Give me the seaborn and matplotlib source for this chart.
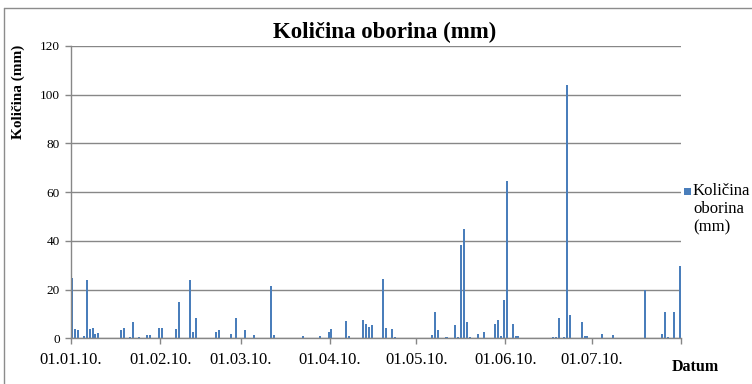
import matplotlib
matplotlib.use("Agg")
import matplotlib.pyplot as plt
import seaborn as sns
import pandas as pd
from matplotlib.patches import Rectangle
from matplotlib.lines import Line2D

# ---- data ----
dates = [
    "2010-01-01", "2010-01-02", "2010-01-03", "2010-01-05", "2010-01-06", "2010-01-07",
    "2010-01-08", "2010-01-09", "2010-01-10", "2010-01-18", "2010-01-19", "2010-01-21",
    "2010-01-22", "2010-01-24", "2010-01-27", "2010-01-28", "2010-01-31",
    "2010-02-01", "2010-02-06", "2010-02-07", "2010-02-11", "2010-02-12", "2010-02-13",
    "2010-02-20", "2010-02-21", "2010-02-25", "2010-02-27",
    "2010-03-02", "2010-03-05", "2010-03-11", "2010-03-12", "2010-03-22", "2010-03-28",
    "2010-03-31",
    "2010-04-01", "2010-04-06", "2010-04-07", "2010-04-12", "2010-04-13", "2010-04-14",
    "2010-04-15", "2010-04-19", "2010-04-20", "2010-04-22", "2010-04-23",
    "2010-05-06", "2010-05-07", "2010-05-08", "2010-05-11", "2010-05-14", "2010-05-15",
    "2010-05-16", "2010-05-17", "2010-05-18", "2010-05-19", "2010-05-22", "2010-05-24",
    "2010-05-28", "2010-05-29", "2010-05-30", "2010-05-31",
    "2010-06-01", "2010-06-03", "2010-06-04", "2010-06-05", "2010-06-17", "2010-06-18",
    "2010-06-19", "2010-06-21", "2010-06-22", "2010-06-23", "2010-06-27", "2010-06-28",
    "2010-06-29",
    "2010-07-04", "2010-07-08", "2010-07-19", "2010-07-25", "2010-07-26", "2010-07-27",
    "2010-07-29", "2010-07-31",
]
amounts = [
    24.8, 3.7, 3.3, 0.8, 24.1, 3.7,
    4.1, 1.6, 2.0, 3.4, 4.1, 0.5,
    6.7, 0.5, 1.2, 1.2, 4.1,
    4.1, 3.7, 14.8, 24.1, 2.4, 8.3,
    2.7, 3.3, 1.9, 8.2,
    3.5, 1.2, 21.6, 1.2, 0.8, 0.8,
    2.4,
    3.8, 6.9, 1.1, 7.5, 5.9, 4.6,
    5.4, 24.4, 4.1, 3.9, 0.4,
    1.5, 10.6, 3.3, 0.4, 5.4, 0.4,
    38.5, 44.8, 6.5, 0.4, 1.8, 2.7,
    6.0, 7.5, 1.1, 15.6,
    64.5, 6.0, 1.1, 1.1, 0.4, 0.7,
    8.3, 0.7, 104.0, 9.5, 6.7, 1.0,
    0.8,
    1.8, 1.2, 19.9, 1.6, 10.7, 0.5,
    11.0, 29.5,
]
month_starts = ["2010-01-01", "2010-02-01", "2010-03-01", "2010-04-01",
                "2010-05-01", "2010-06-01", "2010-07-01", "2010-08-01"]
month_labels = ["01.01.10.", "01.02.10.", "01.03.10.", "01.04.10.",
                "01.05.10.", "01.06.10.", "01.07.10.", ""]
y_ticks = [0, 20, 40, 60, 80, 100, 120]

title = "Količina oborina (mm)"
y_title = "Količina (mm)"
x_title = "Datum"
legend_lines = ["Količina", "oborina", "(mm)"]

# ---- style ----
sns.set_theme(style="white")
plt.rcParams["font.family"] = ["Liberation Serif", "DejaVu Serif"]

W, H = 752, 384
fig = plt.figure(figsize=(W / 100, H / 100), dpi=100)
fig.patch.set_facecolor("white")

def fx(px):
    return px / W

def fy(py):
    return 1 - py / H

ax_left, ax_right, ax_top, ax_bottom = 71, 681, 46, 338.3
ax = fig.add_axes([fx(ax_left), fy(ax_bottom), (ax_right - ax_left) / W,
                   (ax_bottom - ax_top) / H])

start = pd.Timestamp("2010-01-01")
day_pos = [(pd.Timestamp(d) - start).days + 0.5 for d in dates]
df = pd.DataFrame({"day": day_pos, "mm": amounts})

bar_color = "#4A7EBB"
sns.barplot(data=df, x="day", y="mm", native_scale=True, width=0.7,
            color=bar_color, saturation=1, errorbar=None, ax=ax,
            linewidth=0)

tick_pos = [(pd.Timestamp(d) - start).days for d in month_starts]
ax.set_xlim(tick_pos[0], tick_pos[-1])
ax.set_ylim(0, 120)
ax.set_xticks(tick_pos)
ax.set_xticklabels(month_labels, fontsize=12, color="black")
ax.set_yticks(y_ticks)
ax.set_yticklabels([str(v) for v in y_ticks], fontsize=9.5, color="black")
ax.set_xlabel("")
ax.set_ylabel("")

grid_c = "#878787"
ax.yaxis.grid(True, color=grid_c, linewidth=1)
ax.xaxis.grid(False)
ax.set_axisbelow(True)
for s in ["top", "right"]:
    ax.spines[s].set_visible(False)
for s in ["left", "bottom"]:
    ax.spines[s].set_color(grid_c)
    ax.spines[s].set_linewidth(1)
ax.tick_params(axis="both", direction="out", length=4, width=1, color=grid_c,
               pad=4, bottom=True, left=True)
ax.tick_params(axis="x", pad=6)

# titles
fig.text(fx(385), fy(32), title, ha="center", va="center", fontsize=16.5,
         fontweight="bold", color="black")
fig.text(fx(18), fy(92), y_title, ha="center", va="center", rotation=90,
         fontsize=11, fontweight="bold", color="black")
fig.text(fx(672), fy(367), x_title, ha="left", va="center", fontsize=11.5,
         fontweight="bold", color="black")

# legend
fig.patches.append(Rectangle((fx(684), fy(195)), 7 / W, 7 / H,
                             transform=fig.transFigure, facecolor=bar_color,
                             edgecolor="none"))
for i, line in enumerate(legend_lines):
    fig.text(fx(693), fy(191 + 18 * i), line, ha="left", va="center",
             fontsize=12, color="black")

# chart-area border (top and left edges visible)
fig.lines.append(Line2D([fx(4), fx(752)], [fy(8), fy(8)],
                        transform=fig.transFigure, color="#8c8c8c", lw=1))
fig.lines.append(Line2D([fx(4), fx(4)], [fy(8), fy(384)],
                        transform=fig.transFigure, color="#8c8c8c", lw=1))

fig.savefig("out.png", dpi=100, facecolor="white")
